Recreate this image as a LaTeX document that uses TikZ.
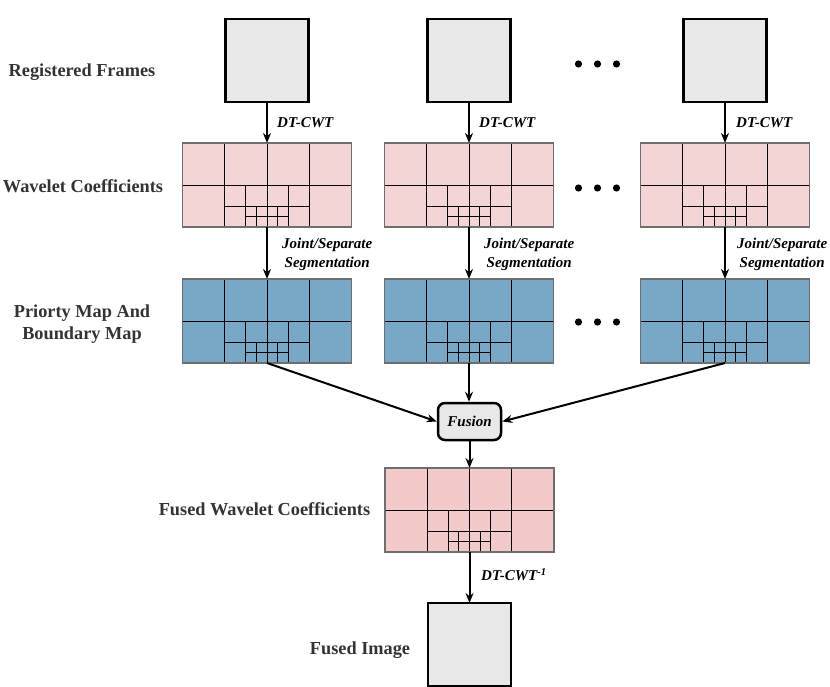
\documentclass[tikz,border=0pt]{standalone}
\usepackage{fontspec}
\setmainfont{Liberation Serif}
\usetikzlibrary{arrows.meta}
\definecolor{pinkc}{HTML}{F2D5D4}
\definecolor{pinkf}{HTML}{F2CACA}
\definecolor{bluec}{HTML}{78A7C7}
\definecolor{framec}{HTML}{E8E8E8}
\definecolor{labc}{HTML}{333333}
\definecolor{borderc}{HTML}{6E6E6E}
\tikzset{
  framebox/.style={draw=black, line width=2.5pt, fill=framec, minimum width=83pt, minimum height=83pt, inner sep=0pt, outer sep=0pt},
  gridbox/.style={draw=borderc, line width=1.5pt, minimum width=169pt, minimum height=84pt, inner sep=0pt, outer sep=0pt, anchor=north west},
  gridline/.style={draw=black, line width=0.9pt},
  arr/.style={draw=black, line width=2pt, -{Stealth[length=10pt,width=8pt]}},
  rowlab/.style={text=labc, font=\fontsize{18.3}{22}\selectfont\bfseries, align=center},
  arrlab/.style={text=black, font=\fontsize{15}{19}\selectfont\bfseries\itshape, align=center, inner sep=0pt},
  fusebox/.style={draw=black, line width=2.5pt, fill=framec, rounded corners=7pt, minimum width=63pt, minimum height=37pt, inner sep=0pt, font=\fontsize{15}{19}\selectfont\bfseries\itshape, text=black},
  wgrid/.pic={
    \node[gridbox, fill=#1] (-box) at (0,0) {};
    \draw[gridline] (42.25,0) -- (42.25,84);
    \draw[gridline] (84.5,0) -- (84.5,84);
    \draw[gridline] (126.75,0) -- (126.75,84);
    \draw[gridline] (0,42) -- (169,42);
    \draw[gridline] (63.375,42) -- (63.375,84);
    \draw[gridline] (105.625,42) -- (105.625,84);
    \draw[gridline] (42.25,63) -- (126.75,63);
    \draw[gridline] (73.94,63) -- (73.94,84);
    \draw[gridline] (95.06,63) -- (95.06,84);
    \draw[gridline] (63.375,73.5) -- (105.625,73.5);
    \draw[draw=borderc, line width=1.5pt] (0,0) rectangle (169,84);
  }
}
\begin{document}
\begin{tikzpicture}[x=1pt,y=-1pt]
\useasboundingbox (0,0) rectangle (830,687);

% frames
\node[framebox] (f1) at (267,60.5) {};
\node[framebox] (f2) at (469,60.5) {};
\node[framebox] (f3) at (725,60.5) {};

% wavelet grids
\pic (w1) at (182.5,143) {wgrid=pinkc};
\pic (w2) at (384.5,143) {wgrid=pinkc};
\pic (w3) at (640.5,143) {wgrid=pinkc};

% blue grids
\pic (b1) at (182.5,279) {wgrid=bluec};
\pic (b2) at (384.5,279) {wgrid=bluec};
\pic (b3) at (640.5,279) {wgrid=bluec};

% fusion
\node[fusebox] (fu) at (469.5,421.5) {Fusion};

% fused wavelet
\pic (fw) at (385,468) {wgrid=pinkf};

% fused image
\node[framebox] (fi) at (469.5,644.5) {};

% dots
\foreach \yy in {64,188,322}{
  \foreach \xx in {578.5,597.5,616.5}{
    \fill (\xx,\yy) circle (3.6pt);
  }
}

% arrows
\draw[arr] (f1.south) -- (w1-box.north);
\draw[arr] (f2.south) -- (w2-box.north);
\draw[arr] (f3.south) -- (w3-box.north);
\draw[arr] (w1-box.south) -- (b1-box.north);
\draw[arr] (w2-box.south) -- (b2-box.north);
\draw[arr] (w3-box.south) -- (b3-box.north);
\draw[arr] (b1-box.south) -- (fu.west);
\draw[arr] (b2-box.south) -- (b2-box.south |- fu.north);
\draw[arr] (b3-box.south) -- (fu.east);
\draw[arr] (fu.south) -- (fw-box.north);
\draw[arr] (fw-box.south) -- (fi.north);

% arrow labels
\node[arrlab, anchor=west] (l1) at (277,123) {DT-CWT};
\node[arrlab, anchor=west] (l2) at (479,123) {DT-CWT};
\node[arrlab, anchor=west] (l3) at (736,123) {DT-CWT};
\node[arrlab, anchor=west] (s1) at (282,254.5) {Joint/Separate\\Segmentation};
\node[arrlab, anchor=west] (s2) at (484,254.5) {Joint/Separate\\Segmentation};
\node[arrlab, anchor=west] (s3) at (737,254.5) {Joint/Separate\\Segmentation};
\node[arrlab, anchor=west] (li) at (481,575) {DT-CWT\textsuperscript{-1}};

% row labels
\node[rowlab] (r1) at (82,72) {Registered Frames};
\node[rowlab] (r2) at (83,186) {Wavelet Coefficients};
\node[rowlab] (r3) at (82,324) {Priorty Map And\\Boundary Map};
\node[rowlab] (r4) at (264.5,509) {Fused Wavelet Coefficients};
\node[rowlab] (r5) at (360,650) {Fused Image};
\end{tikzpicture}
\end{document}
